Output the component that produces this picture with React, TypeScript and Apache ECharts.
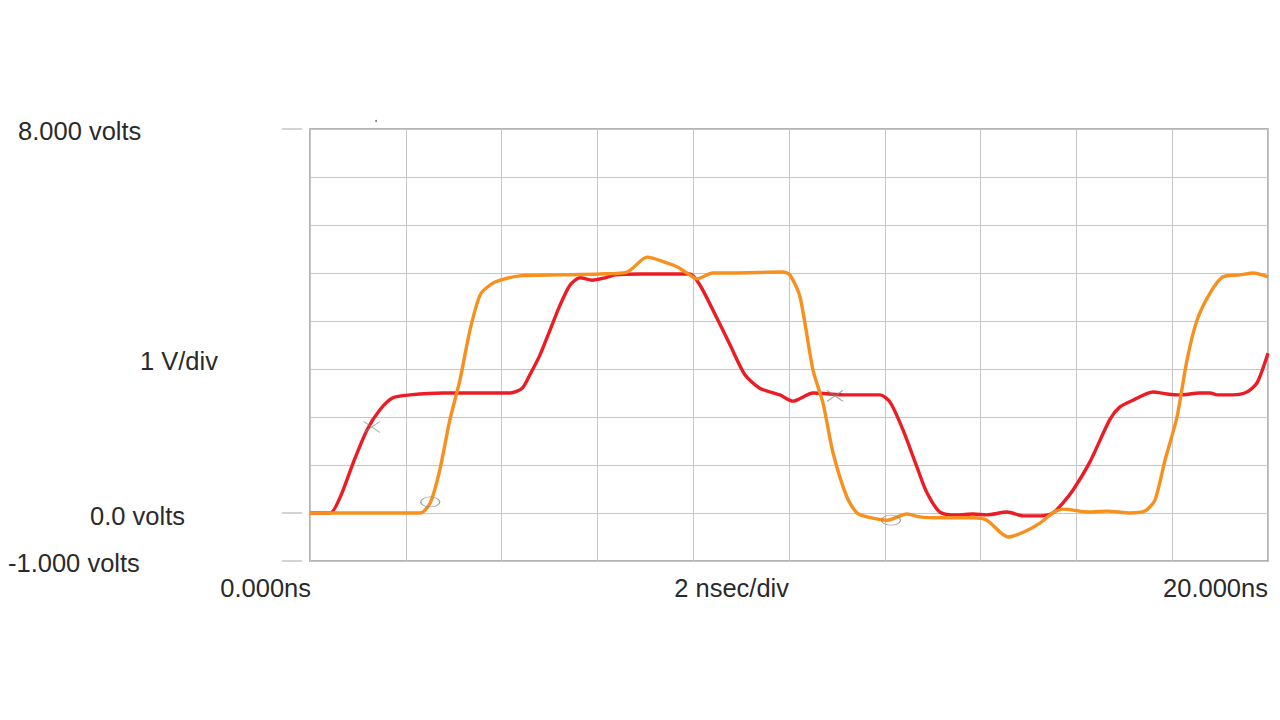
import React, { useEffect, useRef } from "react";
import * as echarts from "echarts";

// time in ns, voltage in volts
const redTrace: [number, number][] = [
  [0, 0], [0.42, 0], [0.63, 0.33], [0.9, 1.04], [1.19, 1.73], [1.46, 2.15], [1.73, 2.4],
  [2.09, 2.46], [2.78, 2.5], [4.18, 2.5], [4.43, 2.6], [4.59, 2.88], [4.8, 3.29], [5.01, 3.81],
  [5.22, 4.33], [5.43, 4.75], [5.64, 4.9], [5.89, 4.85], [6.16, 4.9], [6.37, 4.96], [6.89, 4.98],
  [7.93, 4.98], [8.14, 4.75], [8.46, 4.13], [8.77, 3.5], [9.08, 2.88], [9.39, 2.6], [9.81, 2.46],
  [10.08, 2.33], [10.5, 2.5], [11.21, 2.46], [11.9, 2.46], [12.11, 2.31], [12.38, 1.73],
  [12.67, 0.96], [12.88, 0.42], [13.15, 0.02], [13.51, -0.04], [13.84, -0.02], [14.13, -0.04],
  [14.55, 0.02], [14.89, -0.06], [15.24, -0.06], [15.51, 0], [15.72, 0.21], [15.93, 0.48],
  [16.28, 1.06], [16.7, 1.95], [16.91, 2.21], [17.18, 2.35], [17.6, 2.52], [17.89, 2.48],
  [18.16, 2.46], [18.58, 2.5], [18.79, 2.5], [18.94, 2.46], [19.27, 2.46], [19.56, 2.52],
  [19.77, 2.71], [20, 3.33],
];

const orangeTrace: [number, number][] = [
  [0, 0], [2.3, 0], [2.51, 0.21], [2.71, 0.9], [2.92, 1.94], [3.13, 2.77], [3.34, 3.81],
  [3.55, 4.54], [3.76, 4.75], [3.97, 4.85], [4.38, 4.94], [5.22, 4.96], [6.05, 4.98],
  [6.62, 5.02], [7.04, 5.33], [7.45, 5.21], [7.66, 5.13], [7.87, 5.0], [8.08, 4.88], [8.41, 5.0],
  [8.83, 5.0], [9.87, 5.02], [10.02, 4.96], [10.23, 4.5], [10.5, 2.98], [10.71, 2.29],
  [10.92, 1.25], [11.21, 0.33], [11.42, 0], [11.63, -0.08], [12.05, -0.15], [12.46, -0.02],
  [12.73, -0.08], [13.15, -0.1], [13.84, -0.1], [14.13, -0.15], [14.57, -0.5], [14.89, -0.4],
  [15.24, -0.21], [15.51, 0], [15.72, 0.08], [16.28, 0.02], [16.64, 0.04], [17.12, 0],
  [17.43, 0.04], [17.64, 0.27], [17.85, 1.1], [18.1, 2.0], [18.31, 3.19], [18.52, 4.02],
  [18.79, 4.58], [19.06, 4.92], [19.42, 4.96], [19.69, 5.0], [20, 4.92],
];

const crossMarkers: [number, number][] = [[1.29, 1.79], [10.96, 2.44]];
const ovalMarkers: [number, number][] = [[2.51, 0.23], [12.13, -0.15]];

const yTopLabel = "8.000 volts";
const yScaleLabel = "1 V/div";
const yZeroLabel = "0.0 volts";
const yBottomLabel = "-1.000 volts";
const xStartLabel = "0.000ns";
const xScaleLabel = "2 nsec/div";
const xEndLabel = "20.000ns";

const FONT = "'Liberation Sans', Arial, sans-serif";

export default function App() {
  const ref = useRef<HTMLDivElement>(null);
  useEffect(() => {
    document.body.style.margin = "0";
    if (!ref.current) return;
    const chart = echarts.init(ref.current, null, { renderer: "svg" });
    const txt = (x: number, y: number, text: string, align: string) => ({
      type: "text",
      x,
      y,
      style: {
        text,
        fontSize: 25.5,
        fontFamily: FONT,
        fill: "#2a2a2a",
        textAlign: align,
        textVerticalAlign: "middle",
      },
    });
    const tick = (y: number) => ({
      type: "line",
      shape: { x1: 282, y1: y, x2: 302, y2: y },
      style: { stroke: "#bdbdbd", lineWidth: 1.3 },
    });
    chart.setOption({
      animation: false,
      backgroundColor: "#ffffff",
      grid: {
        left: 310,
        right: 12,
        top: 129,
        bottom: 159,
        show: true,
        borderColor: "#9a9a9a",
        borderWidth: 1.5,
      },
      xAxis: {
        type: "value",
        min: 0,
        max: 20,
        interval: 2,
        axisLine: { show: false },
        axisTick: { show: false },
        axisLabel: { show: false },
        splitLine: { show: true, lineStyle: { color: "#c6c6c6", width: 1 } },
      },
      yAxis: {
        type: "value",
        min: -1,
        max: 8,
        interval: 1,
        axisLine: { show: false },
        axisTick: { show: false },
        axisLabel: { show: false },
        splitLine: { show: true, lineStyle: { color: "#c6c6c6", width: 1 } },
      },
      series: [
        {
          type: "line",
          data: redTrace,
          showSymbol: false,
          smooth: 0.25,
          lineStyle: { color: "#ec1c24", width: 3.4 },
          z: 3,
        },
        {
          type: "line",
          data: orangeTrace,
          showSymbol: false,
          smooth: 0.25,
          lineStyle: { color: "#f7901e", width: 3.4 },
          z: 4,
        },
        {
          type: "scatter",
          data: crossMarkers,
          symbol: "path://M0,0L14,10M14,0L0,10",
          symbolSize: [16, 11],
          itemStyle: { color: "none", borderColor: "#8a8a8a", borderWidth: 1 },
          z: 6,
        },
        {
          type: "scatter",
          data: ovalMarkers,
          symbol: "path://M0,5A9,5 0 1,0 18,5A9,5 0 1,0 0,5Z",
          symbolSize: [19, 10],
          itemStyle: { color: "none", borderColor: "#8a8a8a", borderWidth: 1 },
          z: 6,
        },
      ],
      graphic: [
        txt(18, 131, yTopLabel, "left"),
        txt(140, 361, yScaleLabel, "left"),
        txt(90, 516, yZeroLabel, "left"),
        txt(8, 563, yBottomLabel, "left"),
        txt(311, 588, xStartLabel, "right"),
        txt(789, 588, xScaleLabel, "right"),
        txt(1268, 588, xEndLabel, "right"),
        tick(129),
        tick(513),
        tick(561),
        {
          type: "circle",
          shape: { cx: 376, cy: 121, r: 1 },
          style: { fill: "#777" },
        },
      ],
    });
    return () => chart.dispose();
  }, []);
  return <div ref={ref} style={{ width: 1280, height: 720 }} />;
}
